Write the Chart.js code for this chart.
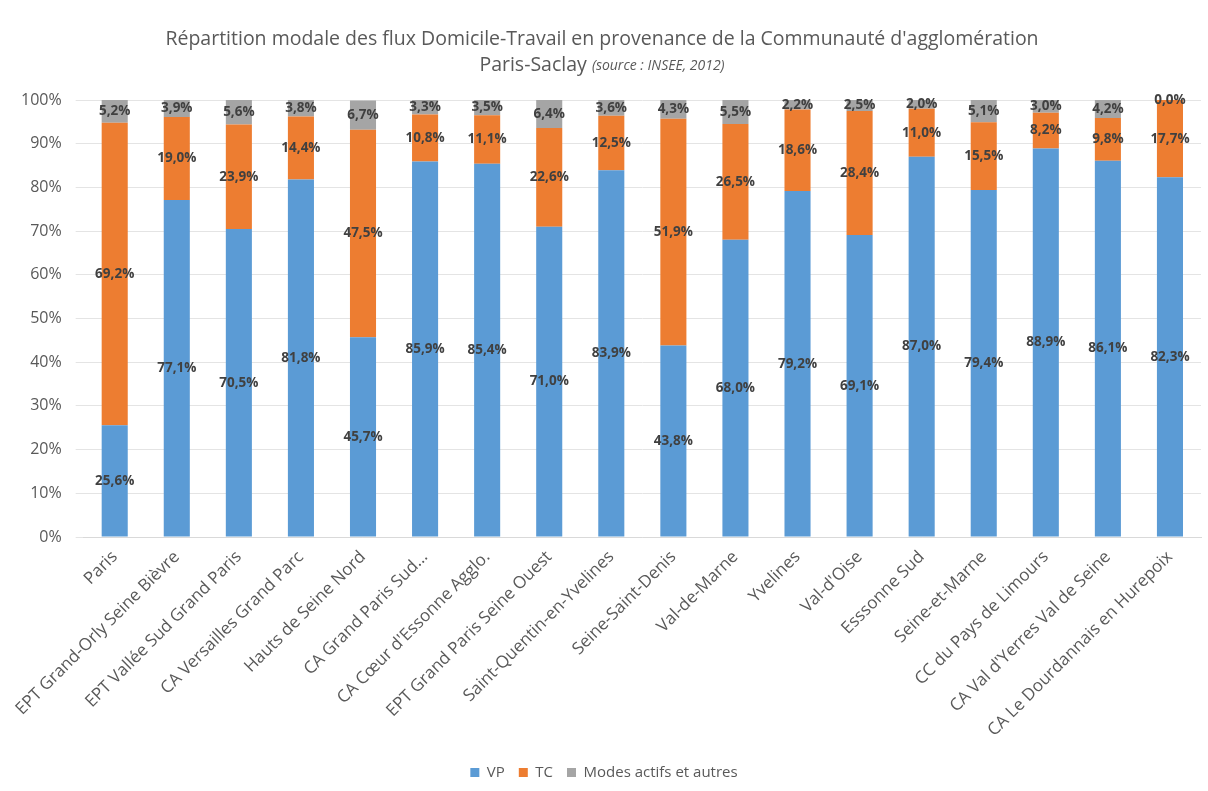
<!DOCTYPE html>
<html>
<head>
<meta charset="utf-8">
<script src="https://cdn.jsdelivr.net/npm/chart.js@4"></script>
<style>
  html, body { margin: 0; padding: 0; background: #fff; }
  #wrap { width: 1208px; height: 791px; position: relative; }
</style>
</head>
<body>
<div id="wrap"><canvas id="modalChart"></canvas></div>
<script>
const categories = [
  'Paris', 'EPT Grand-Orly Seine Bièvre', 'EPT Vallée Sud Grand Paris', 'CA Versailles Grand Parc',
  'Hauts de Seine Nord', 'CA Grand Paris Sud...', "CA Cœur d'Essonne Agglo.", 'EPT Grand Paris Seine Ouest',
  'Saint-Quentin-en-Yvelines', 'Seine-Saint-Denis', 'Val-de-Marne', 'Yvelines', "Val-d'Oise",
  'Esssonne Sud', 'Seine-et-Marne', 'CC du Pays de Limours', "CA Val d'Yerres Val de Seine",
  'CA Le Dourdannais en Hurepoix'
];
const vp = [25.6, 77.1, 70.5, 81.8, 45.7, 85.9, 85.4, 71.0, 83.9, 43.8, 68.0, 79.2, 69.1, 87.0, 79.4, 88.9, 86.1, 82.3];
const tc = [69.2, 19.0, 23.9, 14.4, 47.5, 10.8, 11.1, 22.6, 12.5, 51.9, 26.5, 18.6, 28.4, 11.0, 15.5, 8.2, 9.8, 17.7];
const autres = [5.2, 3.9, 5.6, 3.8, 6.7, 3.3, 3.5, 6.4, 3.6, 4.3, 5.5, 2.2, 2.5, 2.0, 5.1, 3.0, 4.2, 0.0];

const FONT = "'Open Sans', sans-serif";

// labels in the middle of each segment
const barLabels = {
  id: 'barLabels',
  afterDatasetsDraw(chart) {
    const ctx = chart.ctx;
    ctx.save();
    ctx.font = 'bold 13.5px ' + FONT;
    ctx.fillStyle = '#404040';
    ctx.textAlign = 'center';
    ctx.textBaseline = 'middle';
    chart.data.datasets.forEach((ds, i) => {
      const meta = chart.getDatasetMeta(i);
      meta.data.forEach((bar, j) => {
        const v = ds.data[j];
        const txt = v.toFixed(1).replace('.', ',') + '%';
        ctx.fillText(txt, bar.x, (bar.y + bar.base) / 2);
      });
    });
    ctx.restore();
  }
};

// two-line title, second line partly italic
const titlePlugin = {
  id: 'titlePlugin',
  afterDraw(chart) {
    const ctx = chart.ctx;
    const cx = 602;
    ctx.save();
    ctx.fillStyle = '#595959';
    ctx.textBaseline = 'middle';
    ctx.textAlign = 'center';
    ctx.font = '19.5px ' + FONT;
    ctx.fillText("Répartition modale des flux Domicile-Travail en provenance de la Communauté d'agglomération", cx, 39);
    const a = 'Paris-Saclay ';
    const b = '(source : INSEE, 2012)';
    const wa = ctx.measureText(a).width;
    ctx.font = 'italic 14px ' + FONT;
    const wb = ctx.measureText(b).width;
    const x = cx - (wa + wb) / 2;
    ctx.textAlign = 'left';
    ctx.font = '19.5px ' + FONT;
    ctx.fillText(a, x, 65);
    ctx.font = 'italic 14px ' + FONT;
    ctx.fillText(b, x + wa, 66);
    ctx.restore();
  }
};

new Chart(document.getElementById('modalChart'), {
  type: 'bar',
  data: {
    labels: categories,
    datasets: [
      { label: 'VP', data: vp, backgroundColor: '#5B9BD5' },
      { label: 'TC', data: tc, backgroundColor: '#ED7D31' },
      { label: 'Modes actifs et autres', data: autres, backgroundColor: '#A5A5A5' }
    ]
  },
  options: {
    responsive: true,
    maintainAspectRatio: false,
    animation: false,
    datasets: { bar: { categoryPercentage: 1, barPercentage: 0.42 } },
    layout: { padding: { top: 100, left: 7, right: 7, bottom: 1 } },
    plugins: {
      title: { display: false },
      tooltip: { enabled: false },
      legend: {
        position: 'bottom',
        labels: {
          boxWidth: 9, boxHeight: 9, padding: 14,
          color: '#595959',
          font: { family: FONT, size: 15 }
        }
      }
    },
    scales: {
      x: {
        stacked: true,
        grid: { display: false },
        border: { color: '#D9D9D9' },
        afterFit: s => { s.height = 214; },
        ticks: {
          autoSkip: false, maxRotation: 45, minRotation: 45,
          color: '#595959', padding: 2,
          font: { family: FONT, size: 17 }
        }
      },
      y: {
        stacked: true,
        min: 0, max: 100,
        grid: { color: '#E4E4E4' },
        border: { display: false },
        ticks: {
          stepSize: 10, padding: 14,
          color: '#595959',
          font: { family: FONT, size: 16 },
          callback: v => v + '%'
        }
      }
    }
  },
  plugins: [barLabels, titlePlugin]
});
</script>
</body>
</html>
